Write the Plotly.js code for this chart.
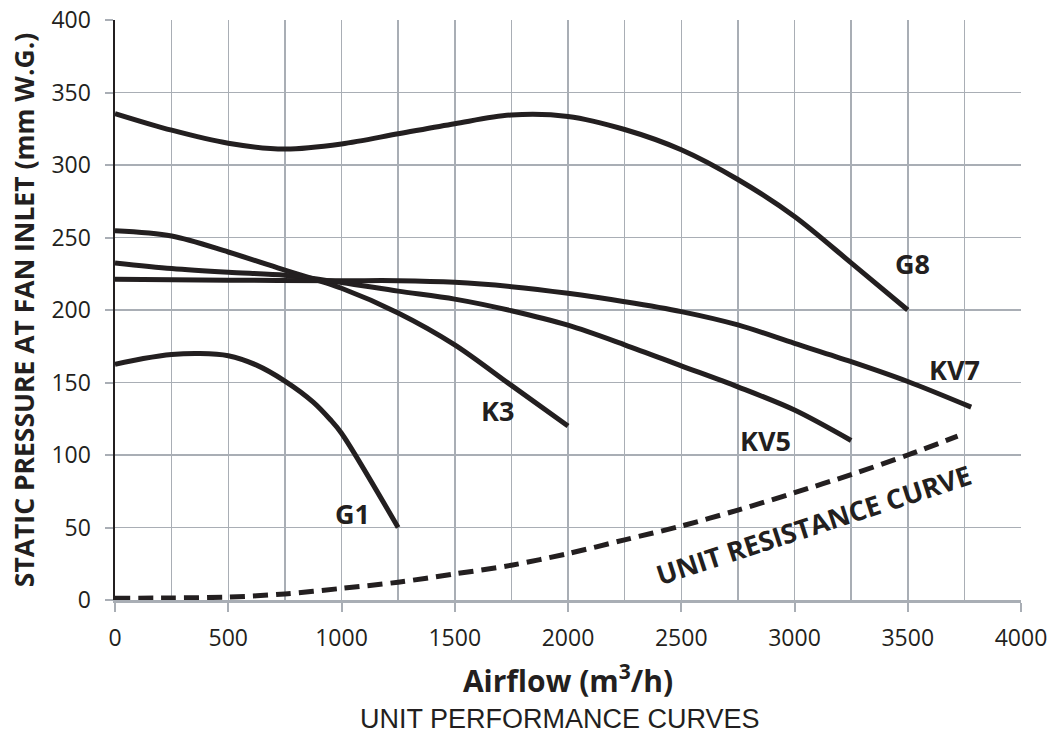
<!DOCTYPE html>
<html>
<head>
<meta charset="utf-8">
<script src="https://cdn.plot.ly/plotly-3.0.1.min.js"></script>
<style>html,body{margin:0;padding:0;background:#fff;}#chart{width:1053px;height:736px;}</style>
</head>
<body>
<div id="chart"></div>
<script>
// Airflow (m3/h) and static pressure (mm W.G.)
const g1X = [0, 125, 250, 375, 500, 625, 750, 875, 950, 1000, 1250];
const g1Y = [162.5, 166.5, 169.3, 170, 168.5, 162, 151, 136.5, 124.5, 115, 50];

const k3X = [0, 250, 500, 750, 1000, 1250, 1500, 1750, 2000];
const k3Y = [254.6, 251, 240, 227.5, 215, 198, 176, 148, 120];

const kv5X = [0, 250, 500, 750, 1000, 1250, 1500, 1750, 2000, 2250, 2500, 2750, 3000, 3250];
const kv5Y = [232.5, 228.6, 226, 224, 219, 213, 207.5, 199.5, 189.5, 176, 161.5, 147, 131, 110];

const kv7X = [0, 500, 1000, 1250, 1500, 1750, 2000, 2250, 2500, 2750, 3000, 3250, 3500, 3780];
const kv7Y = [221.2, 220.6, 220.2, 220.2, 219.1, 216.1, 211.5, 205.7, 198.9, 189.7, 177, 164.4, 150.7, 133];

const g8X = [0, 250, 500, 750, 1000, 1250, 1500, 1750, 2000, 2250, 2500, 2750, 3000, 3250, 3500];
const g8Y = [335.5, 324, 315, 311, 314.5, 321.5, 328.5, 334.5, 333.5, 324.5, 310.5, 290, 264.5, 232.5, 200];

const resX = [0, 250, 500, 750, 1000, 1250, 1500, 1750, 2000, 2250, 2500, 2750, 3000, 3250, 3500, 3720];
const resY = [1.2, 1.4, 2, 4.2, 8, 12.3, 18, 24, 32, 41.5, 51, 62, 74, 86.5, 100, 113];

const curveNames = ["G1", "K3", "KV5", "KV7", "G8"];
const xTickVals = [0, 500, 1000, 1500, 2000, 2500, 3000, 3500, 4000];
const yTickVals = [0, 50, 100, 150, 200, 250, 300, 350, 400];

const ink = "#231f20";
const gridCol = "#a9aeb5";
const lineW = 5;

const curves = [[g1X, g1Y], [k3X, k3Y], [kv5X, kv5Y], [kv7X, kv7Y], [g8X, g8Y]];
const traces = curves.map((c, i) => ({
  x: c[0], y: c[1], name: curveNames[i], type: "scatter", mode: "lines",
  line: {color: ink, width: lineW, shape: "spline", smoothing: 0.9},
  hoverinfo: "skip"
}));
traces.push({
  x: resX, y: resY, name: "UNIT RESISTANCE CURVE", type: "scatter", mode: "lines",
  line: {color: ink, width: 5, shape: "spline", smoothing: 0.9, dash: "15px,8px"},
  hoverinfo: "skip"
});

const labFont = {family: "Open Sans, sans-serif", size: 27, color: ink, weight: 700};
function lab(text, x, y, extra) {
  return Object.assign({text: "<b>" + text + "</b>", x: x, y: y, xref: "x", yref: "y",
    showarrow: false, font: labFont}, extra || {});
}

const layout = {
  width: 1053, height: 736,
  margin: {l: 115, r: 32, t: 20, b: 136},
  paper_bgcolor: "#fff", plot_bgcolor: "#fff",
  showlegend: false,
  font: {family: "Open Sans, sans-serif", color: ink},
  xaxis: {
    range: [0, 4000], tickvals: xTickVals, ticktext: xTickVals.map(String),
    showgrid: true, gridcolor: gridCol, gridwidth: 1.5,
    minor: {dtick: 250, tick0: 0, showgrid: true, gridcolor: gridCol, gridwidth: 1.5, ticks: ""},
    showline: true, linecolor: gridCol, linewidth: 2.5,
    ticks: "outside", ticklen: 9, tickwidth: 2, tickcolor: gridCol,
    zeroline: false, tickfont: {size: 23, color: ink},
    ticklabelstandoff: 7,
    title: {text: "<b>Airflow (m<sup>3</sup>/h)</b>", font: {size: 30, color: ink}, standoff: 19},
    automargin: false,
    fixedrange: true
  },
  yaxis: {
    range: [0, 400], tickvals: yTickVals, ticktext: yTickVals.map(String),
    showgrid: true, gridcolor: gridCol, gridwidth: 1.5,
    showline: true, linecolor: ink, linewidth: 2.5,
    ticks: "outside", ticklen: 8, tickwidth: 2, tickcolor: gridCol,
    zeroline: false, tickfont: {size: 23, color: ink},
    ticklabelstandoff: 9,
    title: {text: "<b>STATIC PRESSURE AT FAN INLET (mm W.G.)</b>", font: {size: 26.5, color: ink}, standoff: 9},
    automargin: false,
    fixedrange: true
  },
  annotations: [
    lab(curveNames[0], 1050, 60),
    lab(curveNames[1], 1690, 131),
    lab(curveNames[2], 2870, 110),
    lab(curveNames[3], 3705, 159),
    lab(curveNames[4], 3520, 232),
    lab("UNIT RESISTANCE CURVE", 3085, 52, {textangle: -18}),
    {text: "UNIT PERFORMANCE CURVES", xref: "paper", yref: "paper", x: 0.491, y: 0,
     yanchor: "middle", yshift: -119, showarrow: false,
     font: {family: "Liberation Sans, Arial, sans-serif", size: 27, color: ink}}
  ]
};

Plotly.newPlot("chart", traces, layout, {staticPlot: true, displayModeBar: false});
</script>
</body>
</html>
